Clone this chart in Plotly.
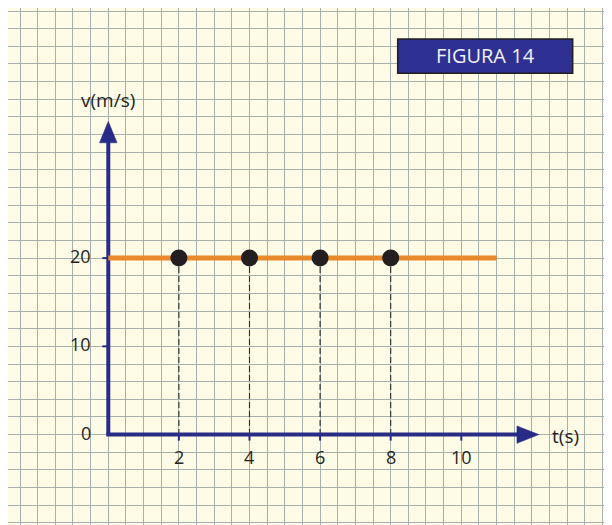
import plotly.graph_objects as go

# ---- data ----
t_points = [2, 4, 6, 8]
v_points = [20, 20, 20, 20]
t_line = [0, 11]
v_line = [20, 20]
x_tick_vals = [2, 4, 6, 8, 10]
x_tick_text = ["2", "4", "6", "8", "10"]
y_tick_vals = [0, 10, 20]
y_tick_text = ["0", "10", "20"]
x_label = "t(s)"
y_label = "v(m/s)"
figure_title = "FIGURA 14"
t_axis_end = 12.2   # arrow tip of time axis
v_axis_end = 35.5   # arrow tip of velocity axis

# ---- geometry / style ----
W, H = 612, 525
PX_T = 35.3      # pixels per second
PX_V = 8.825     # pixels per m/s
x_range = [-2.841, 14.496]
y_range = [-11.15, 48.34]
AXIS_COL = "#282C86"
TEXT_COL = "#231F20"
FONT = "Open Sans"

fig = go.Figure()

# dashed drop lines
dx, dy = [], []
for t, v in zip(t_points, v_points):
    dx += [t, t, None]
    dy += [v, 0, None]
fig.add_trace(go.Scatter(x=dx, y=dy, mode="lines",
                         line=dict(color="#2B2B2B", width=1.1, dash="6px,3px"),
                         hoverinfo="skip", showlegend=False))

# tick marks
tx, ty = [], []
for t in x_tick_vals:
    tx += [t, t, None]
    ty += [0, -6 / PX_V, None]
for v in y_tick_vals[1:]:
    tx += [-6 / PX_T, 0, None]
    ty += [v, v, None]
fig.add_trace(go.Scatter(x=tx, y=ty, mode="lines",
                         line=dict(color=AXIS_COL, width=2),
                         hoverinfo="skip", showlegend=False))

# axes lines
head_t = 22 / PX_T
head_v = 21.5 / PX_V
fig.add_trace(go.Scatter(x=[-2 / PX_T, t_axis_end - head_t + 0.05], y=[0, 0], mode="lines",
                         line=dict(color=AXIS_COL, width=4),
                         hoverinfo="skip", showlegend=False))
fig.add_trace(go.Scatter(x=[0, 0], y=[0, v_axis_end - head_v + 0.2], mode="lines",
                         line=dict(color=AXIS_COL, width=4),
                         hoverinfo="skip", showlegend=False))
# arrow heads
hw_v = 8.7 / PX_V
hw_t = 8.8 / PX_T
fig.add_trace(go.Scatter(x=[t_axis_end - head_t, t_axis_end, t_axis_end - head_t, t_axis_end - head_t],
                         y=[hw_v, 0, -hw_v, hw_v], mode="lines", fill="toself",
                         fillcolor=AXIS_COL, line=dict(color=AXIS_COL, width=0.5),
                         hoverinfo="skip", showlegend=False))
fig.add_trace(go.Scatter(x=[-hw_t, 0, hw_t, -hw_t],
                         y=[v_axis_end - head_v, v_axis_end, v_axis_end - head_v, v_axis_end - head_v],
                         mode="lines", fill="toself",
                         fillcolor=AXIS_COL, line=dict(color=AXIS_COL, width=0.5),
                         hoverinfo="skip", showlegend=False))

# orange velocity line
fig.add_trace(go.Scatter(x=t_line, y=v_line, mode="lines",
                         line=dict(color="#E8892B", width=5),
                         hoverinfo="skip", showlegend=False))
# points
fig.add_trace(go.Scatter(x=t_points, y=v_points, mode="markers",
                         marker=dict(color="#231F20", size=17, line=dict(width=0)),
                         showlegend=False))

annotations = []
for t, s in zip(x_tick_vals, x_tick_text):
    annotations.append(dict(x=t, y=0, text=s, showarrow=False, xanchor="center", yanchor="middle",
                            yshift=-22, font=dict(family=FONT, size=18, color=TEXT_COL)))
for v, s in zip(y_tick_vals, y_tick_text):
    annotations.append(dict(x=-15 / PX_T, y=v, text=s, showarrow=False, xanchor="right", yanchor="middle",
                            yshift=2, font=dict(family=FONT, size=18, color=TEXT_COL)))
annotations.append(dict(x=t_axis_end + 0.3, y=0, text=x_label, showarrow=False, xanchor="left",
                        yanchor="middle", yshift=-1, font=dict(family=FONT, size=19, color=TEXT_COL)))
annotations.append(dict(x=0, y=v_axis_end, text=y_label, showarrow=False, xanchor="center",
                        yanchor="bottom", yshift=6, font=dict(family=FONT, size=19, color=TEXT_COL)))
annotations.append(dict(x=477 / W, y=1 - 48 / H, xref="paper", yref="paper", text=figure_title,
                        showarrow=False, xanchor="center", yanchor="middle",
                        font=dict(family=FONT, size=20, color="#F0F0F6")))

shapes = [dict(type="rect", xref="paper", yref="paper",
               x0=389.7 / W, x1=564.7 / W, y0=1 - 65.3 / H, y1=1 - 31 / H,
               fillcolor="#2E3192", line=dict(color="#231F20", width=1.5), layer="above")]

fig.update_layout(
    width=W, height=H,
    margin=dict(l=0, r=0, t=0, b=0),
    paper_bgcolor="#FEFBE6",
    plot_bgcolor="#FEFBE6",
    showlegend=False,
    annotations=annotations,
    shapes=shapes,
    xaxis=dict(domain=[0, 1], range=x_range, tick0=0, dtick=0.5,
               showgrid=True, gridcolor="#A6B0AC", gridwidth=1.3,
               zeroline=False, showline=False, showticklabels=False, ticks="", fixedrange=True),
    yaxis=dict(domain=[0, 1], range=y_range, tick0=0, dtick=2,
               showgrid=True, gridcolor="#A6B0AC", gridwidth=1.3,
               zeroline=False, showline=False, showticklabels=False, ticks="", fixedrange=True),
)

fig.write_html("out.html")
